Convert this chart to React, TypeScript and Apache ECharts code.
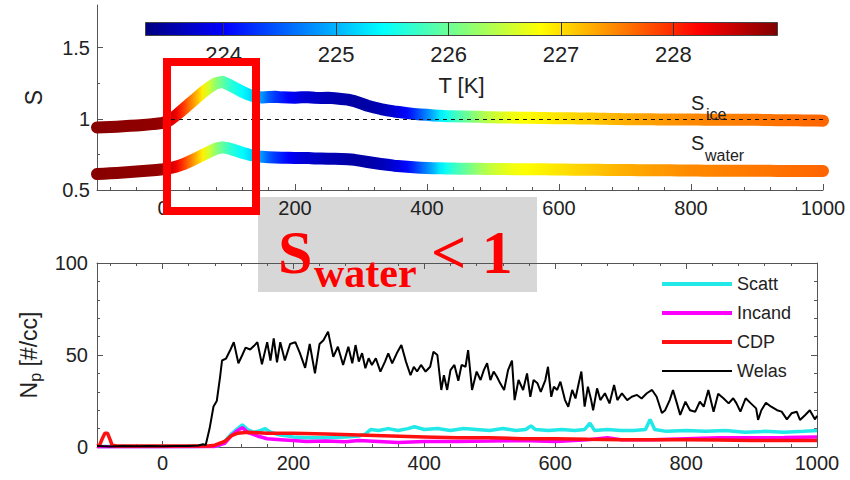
import React, { useEffect, useRef } from "react";
import * as echarts from "echarts";

const FONT = "'Liberation Sans', Arial, Helvetica, sans-serif";
const SERIF = "'Liberation Serif', 'Times New Roman', serif";

// time axis for saturation ratios (s)
const sTime = [
  -100, -90, -80, -70, -60, -50, -40, -30, -20, -10,
  0, 10, 20, 30, 40, 50, 60, 70, 80, 90,
  100, 110, 120, 130, 140, 150, 160, 170, 180, 190,
  200, 210, 220, 230, 240, 250, 260, 270, 280, 290,
  300, 310, 320, 330, 340, 350, 360, 370, 380, 390,
  400, 410, 420, 430, 440, 450, 460, 470, 480, 490,
  500, 510, 520, 530, 540, 550, 560, 570, 580, 590,
  600, 610, 620, 630, 640, 650, 660, 670, 680, 690,
  700, 710, 720, 730, 740, 750, 760, 770, 780, 790,
  800, 810, 820, 830, 840, 850, 860, 870, 880, 890,
  900, 910, 920, 930, 940, 950, 960, 970, 980, 990,
  1000,
];
const sIce = [
  0.940, 0.941, 0.943, 0.945, 0.948, 0.951, 0.954, 0.957, 0.961, 0.966,
  0.972, 0.990, 1.025, 1.065, 1.105, 1.145, 1.185, 1.220, 1.250, 1.260,
  1.240, 1.215, 1.190, 1.170, 1.155, 1.150, 1.154, 1.155, 1.151, 1.150,
  1.148, 1.151, 1.152, 1.148, 1.146, 1.148, 1.145, 1.140, 1.135, 1.125,
  1.108, 1.092, 1.080, 1.069, 1.060, 1.052, 1.046, 1.040, 1.035, 1.031,
  1.028, 1.024, 1.021, 1.019, 1.018, 1.017, 1.016, 1.015, 1.014, 1.012,
  1.011, 1.010, 1.009, 1.009, 1.008, 1.007, 1.007, 1.006, 1.006, 1.005,
  1.005, 1.004, 1.004, 1.003, 1.002, 1.002, 1.001, 1.000, 0.999, 0.999,
  0.998, 0.998, 0.997, 0.997, 0.997, 0.996, 0.996, 0.996, 0.995, 0.995,
  0.995, 0.995, 0.994, 0.994, 0.994, 0.994, 0.993, 0.993, 0.993, 0.993,
  0.993, 0.992, 0.992, 0.991, 0.991, 0.990, 0.990, 0.989, 0.989, 0.988,
  0.987,
];
const sWater = [
  0.612, 0.614, 0.617, 0.620, 0.623, 0.626, 0.630, 0.633, 0.637, 0.641,
  0.646, 0.653, 0.664, 0.680, 0.700, 0.722, 0.745, 0.768, 0.790, 0.800,
  0.792, 0.777, 0.762, 0.749, 0.739, 0.733, 0.730, 0.728, 0.727, 0.726,
  0.725, 0.725, 0.724, 0.722, 0.721, 0.720, 0.719, 0.718, 0.716, 0.712,
  0.705, 0.697, 0.690, 0.683, 0.677, 0.671, 0.667, 0.663, 0.660, 0.657,
  0.655, 0.653, 0.652, 0.651, 0.651, 0.650, 0.650, 0.649, 0.649, 0.648,
  0.648, 0.647, 0.647, 0.646, 0.646, 0.646, 0.645, 0.645, 0.645, 0.644,
  0.644, 0.644, 0.643, 0.643, 0.642, 0.642, 0.642, 0.641, 0.641, 0.640,
  0.640, 0.640, 0.639, 0.639, 0.639, 0.638, 0.638, 0.638, 0.637, 0.637,
  0.637, 0.637, 0.636, 0.636, 0.636, 0.636, 0.636, 0.635, 0.635, 0.635,
  0.635, 0.635, 0.635, 0.634, 0.634, 0.634, 0.634, 0.634, 0.634, 0.634,
  0.634,
];
const tempK = [
  228.88, 228.88, 228.87, 228.87, 228.86, 228.86, 228.85, 228.85, 228.84, 228.83,
  228.78, 228.55, 228.30, 227.95, 227.60, 227.25, 226.90, 226.55, 226.20, 225.95,
  225.70, 225.55, 225.40, 225.25, 225.05, 224.80, 224.50, 224.30, 224.15, 224.00,
  223.90, 223.80, 223.75, 223.70, 223.65, 223.60, 223.58, 223.55, 223.52, 223.50,
  223.50, 223.52, 223.55, 223.60, 223.68, 223.78, 223.90, 224.05, 224.25, 224.50,
  224.75, 225.00, 225.30, 225.50, 225.70, 225.85, 226.00, 226.15, 226.30, 226.42,
  226.52, 226.60, 226.68, 226.74, 226.78, 226.82, 226.85, 226.88, 226.91, 226.94,
  226.97, 227.00, 227.03, 227.06, 227.09, 227.12, 227.15, 227.18, 227.21, 227.24,
  227.27, 227.29, 227.31, 227.33, 227.35, 227.37, 227.39, 227.41, 227.43, 227.45,
  227.47, 227.48, 227.49, 227.50, 227.51, 227.52, 227.53, 227.54, 227.55, 227.56,
  227.57, 227.58, 227.59, 227.60, 227.61, 227.62, 227.63, 227.64, 227.65, 227.66,
  227.67,
];

// number concentrations [time, #/cc]
const scatt: [number, number][] = [
  [-100, 0.3], [-50, 0.3], [0, 0.3], [50, 0.3], [85, 0.5], [95, 3], [105, 7], [115, 10],
  [122, 12], [130, 9.5], [140, 8], [150, 9], [157, 10], [165, 8], [180, 6.5], [200, 5.5],
  [220, 5], [250, 5], [280, 5.5], [300, 6], [310, 7], [318, 9.5], [330, 9], [345, 10],
  [360, 9], [375, 10], [385, 11], [400, 9.5], [420, 10], [440, 9], [460, 10], [480, 9.5],
  [500, 9], [520, 10], [540, 9], [555, 9.5], [563, 11.5], [570, 9.5], [590, 9], [610, 9.5],
  [630, 9], [645, 9.5], [653, 13], [660, 9], [680, 9.5], [700, 9], [720, 9], [738, 9.5],
  [745, 15], [752, 9.5], [770, 8.5], [800, 9], [830, 8.5], [860, 9], [890, 8], [920, 8.5],
  [950, 8], [980, 8.5], [1000, 9],
];
const incand: [number, number][] = [
  [-100, 0.2], [0, 0.2], [80, 0.3], [95, 2], [105, 6], [115, 9], [122, 10.5], [130, 8],
  [145, 6], [160, 4.5], [180, 4], [200, 3.5], [220, 3], [250, 3.2], [280, 2.8], [300, 3.5],
  [330, 3], [360, 2.5], [400, 3], [450, 3], [500, 3.2], [550, 3.5], [600, 3], [650, 4],
  [680, 5], [700, 4], [750, 4], [800, 4.5], [850, 5], [900, 5], [950, 5.2], [1000, 5.5],
];
const cdp: [number, number][] = [
  [-100, 0.5], [-96, 1], [-92, 4.5], [-88, 7.5], [-84, 7.5], [-80, 4], [-77, 1], [-70, 0.5],
  [0, 0.5], [70, 0.5], [80, 1], [95, 3], [105, 6], [115, 7.5], [130, 8], [160, 7.5],
  [200, 7.5], [250, 7], [300, 6.5], [350, 6], [400, 5.5], [450, 5], [500, 5], [550, 4.5],
  [600, 4.5], [650, 4.2], [700, 4], [750, 4], [800, 4], [850, 3.8], [900, 3.6], [950, 3.5],
  [1000, 3.5],
];
const welas: [number, number][] = [
  [-100, 0.5], [-80, 0.3], [-60, 0.5], [-40, 0.4], [-20, 0.5], [0, 0.4], [20, 0.5], [40, 0.6],
  [55, 0.8], [62, 1.5], [66, 1], [72, 10], [78, 22], [83, 25], [88, 38], [91, 47],
  [97, 48], [104, 53], [109, 57], [116, 45.5], [122, 50], [127, 54], [134, 53], [140, 55],
  [145, 57], [152, 45], [160, 57], [165, 47], [170, 59], [175, 46], [180, 57], [187, 47],
  [195, 56], [203, 57], [210, 51], [218, 43], [225, 56], [233, 40], [240, 56], [246, 58],
  [253, 62.7], [261, 49], [268, 54.5], [276, 44.6], [284, 54.5], [290, 45.5], [295, 55.4], [300, 46.4],
  [305, 51], [310, 42.8], [315, 48.2], [320, 44.6], [326, 48.2], [333, 41], [340, 46.4], [345, 50.9],
  [351, 45.5], [358, 50.9], [365, 55.4], [372, 46.4], [379, 39], [384, 43.6], [389, 41], [395, 44.6],
  [402, 41], [409, 43.6], [414, 51.8], [420, 50], [426, 31], [430, 39], [435, 31], [440, 41.8],
  [446, 44.6], [452, 36], [457, 44.6], [463, 43.6], [467, 52.7], [473, 31], [480, 41], [486, 36.4],
  [491, 41.8], [496, 45.5], [501, 36.4], [506, 41], [511, 38.2], [516, 34.6], [522, 31], [528, 41.8],
  [534, 47], [538, 25.5], [544, 36.4], [551, 31], [557, 40], [562, 27.3], [567, 36.4], [573, 34.6],
  [578, 30], [585, 36.4], [589, 43.6], [594, 27.3], [598, 32.8], [603, 31], [608, 35.5], [615, 25.5],
  [620, 21.9], [626, 31], [631, 26.4], [636, 34.6], [640, 41], [645, 21.9], [650, 32.8], [655, 25.5],
  [658, 20], [664, 31.9], [669, 25.5], [676, 29.2], [683, 23.7], [690, 33.7], [695, 25.5], [702, 29.2],
  [710, 25.5], [717, 27.3], [725, 28.3], [732, 26.4], [740, 29.2], [748, 31], [755, 27.3], [763, 18.5],
  [768, 20], [775, 25.5], [780, 31], [786, 23.7], [791, 17.4], [799, 24.6], [806, 20], [814, 19.2],
  [821, 24.6], [827, 21.9], [834, 31], [842, 19.2], [849, 29], [857, 26.5], [865, 23.7], [872, 26.5],
  [877, 23.7], [883, 19.2], [891, 26.5], [899, 23.7], [907, 21], [910, 14.7], [915, 20], [922, 24],
  [930, 21.9], [939, 20], [946, 19.2], [954, 15], [961, 18.3], [969, 19.2], [974, 14.7], [982, 17.4],
  [989, 20], [997, 15], [1000, 17],
];

// axes / tick values
const xMajor = [0, 200, 400, 600, 800, 1000];
const xMinor = [-80, -40, 0, 40, 80, 120, 160, 200, 240, 280, 320, 360, 400, 440, 480, 520, 560, 600, 640, 680, 720, 760, 800, 840, 880, 920, 960, 1000];
const sMajor = [0.5, 1, 1.5];
const sMinor = [0.75, 1.25];
const tTicks = [224, 225, 226, 227, 228];
const colorbarMin = 223.3;
const colorbarMax = 228.93;
const jet = ["#000080", "#0000ff", "#0080ff", "#00ffff", "#80ff80", "#ffff00", "#ff8000", "#ff0000", "#800000"];

const AX = "#555";
const TXT = "#222";

function hexToRgb(h: string) {
  return [parseInt(h.slice(1, 3), 16), parseInt(h.slice(3, 5), 16), parseInt(h.slice(5, 7), 16)];
}
function jetColor(T: number) {
  const f = Math.min(1, Math.max(0, (T - colorbarMin) / (colorbarMax - colorbarMin))) * (jet.length - 1);
  const i = Math.min(jet.length - 2, Math.floor(f));
  const r = f - i;
  const a = hexToRgb(jet[i]);
  const b = hexToRgb(jet[i + 1]);
  const c = a.map((v, k) => Math.round(v + (b[k] - v) * r));
  return `rgb(${c[0]},${c[1]},${c[2]})`;
}

const fmt = (v: number) => String(v);

function xAxisPair(grid: number, margin: number, pos: "bottom" | "top", labels: boolean) {
  return [
    {
      type: "value", gridIndex: grid, min: -100, max: 1000, position: pos,
      axisLine: { show: true, onZero: false, lineStyle: { color: AX } },
      axisTick: { inside: true, length: 6, customValues: xMajor, lineStyle: { color: AX } },
      axisLabel: { show: labels, customValues: xMajor, formatter: fmt, fontSize: 20, color: TXT, margin, fontFamily: FONT },
      splitLine: { show: false },
    },
    {
      type: "value", gridIndex: grid, min: -100, max: 1000, position: pos,
      axisLine: { show: false, onZero: false },
      axisTick: { inside: true, length: 3, customValues: xMinor, lineStyle: { color: AX } },
      axisLabel: { show: false },
      splitLine: { show: false },
    },
  ];
}

function buildOption() {
  const iceData = sTime.map((t, i) => [t, sIce[i]]);
  const waterData = sTime.map((t, i) => [t, sWater[i]]);
  const t0 = sTime[0];
  const t1 = sTime[sTime.length - 1];
  const bandStops = sTime.map((t, i) => ({ offset: (t - t0) / (t1 - t0), color: jetColor(tempK[i]) }));
  const bandGrad = () => new echarts.graphic.LinearGradient(0, 0, 1, 0, bandStops);
  const barStops = jet.map((c, i) => ({ offset: i / (jet.length - 1), color: c }));

  return {
    animation: false,
    backgroundColor: "#ffffff",
    grid: [
      { left: 97, top: 5, width: 726, height: 185, show: false },
      { left: 97, top: 263, width: 720, height: 184, show: false },
      { left: 145, top: 22, width: 633, height: 14, show: false },
    ],
    xAxis: [
      ...xAxisPair(0, 8, "bottom", true),
      ...xAxisPair(1, 6, "bottom", true),
      ...xAxisPair(1, 6, "top", false),
      {
        type: "value", gridIndex: 2, min: colorbarMin, max: colorbarMax, position: "bottom",
        axisLine: { show: false, onZero: false },
        axisTick: { show: false },
        axisLabel: { customValues: tTicks, formatter: fmt, fontSize: 22, color: TXT, margin: 7, fontFamily: FONT },
        splitLine: { show: false },
        name: "T [K]", nameLocation: "middle", nameGap: 38,
        nameTextStyle: { fontSize: 22, color: TXT, fontFamily: FONT },
      },
    ],
    yAxis: [
      {
        type: "value", gridIndex: 0, min: 0.5, max: 1.8, position: "left",
        axisLine: { show: true, onZero: false, lineStyle: { color: AX } },
        axisTick: { inside: true, length: 6, customValues: sMajor, lineStyle: { color: AX } },
        axisLabel: { customValues: sMajor, formatter: fmt, fontSize: 20, color: TXT, margin: 7, fontFamily: FONT },
        splitLine: { show: false },
        name: "S", nameLocation: "middle", nameGap: 52, nameRotate: 90,
        nameTextStyle: { fontSize: 23, color: TXT, fontFamily: FONT },
      },
      {
        type: "value", gridIndex: 0, min: 0.5, max: 1.8, position: "left",
        axisLine: { show: false, onZero: false },
        axisTick: { inside: true, length: 3, customValues: sMinor, lineStyle: { color: AX } },
        axisLabel: { show: false },
        splitLine: { show: false },
      },
      {
        type: "value", gridIndex: 1, min: 0, max: 100, interval: 50, position: "left",
        axisLine: { show: true, onZero: false, lineStyle: { color: AX } },
        axisTick: { inside: true, length: 6, lineStyle: { color: AX } },
        minorTick: { show: true, splitNumber: 5, length: 3, lineStyle: { color: AX } },
        axisLabel: { formatter: fmt, fontSize: 20, color: TXT, margin: 9, fontFamily: FONT },
        splitLine: { show: false },
        name: "{n|N}{p|p}{n| [#/cc]}", nameLocation: "middle", nameGap: 55, nameRotate: 90,
        nameTextStyle: {
          color: TXT, fontFamily: FONT,
          rich: {
            n: { fontSize: 23, lineHeight: 23, color: TXT, fontFamily: FONT },
            p: { fontSize: 16, lineHeight: 16, padding: [14, 0, 0, 0], color: TXT, fontFamily: FONT },
          },
        },
      },
      {
        type: "value", gridIndex: 1, min: 0, max: 100, interval: 50, position: "right",
        axisLine: { show: true, onZero: false, lineStyle: { color: AX } },
        axisTick: { inside: true, length: 6, lineStyle: { color: AX } },
        minorTick: { show: true, splitNumber: 5, length: 3, lineStyle: { color: AX } },
        axisLabel: { show: false },
        splitLine: { show: false },
      },
      { type: "category", gridIndex: 2, data: ["T"], show: false },
    ],
    legend: {
      orient: "vertical", left: 660, top: 275, padding: 0,
      itemWidth: 70, itemHeight: 14, itemGap: 11,
      itemStyle: { opacity: 0 },
      data: [
        { name: "Scatt", lineStyle: { width: 4 } },
        { name: "Incand", lineStyle: { width: 4 } },
        { name: "CDP", lineStyle: { width: 4 } },
        { name: "Welas", lineStyle: { width: 2 } },
      ],
      textStyle: { fontSize: 18, color: TXT, fontFamily: FONT },
    },
    series: [
      {
        name: "Sice", type: "line", xAxisIndex: 0, yAxisIndex: 0, data: iceData,
        symbol: "none", clip: false,
        lineStyle: { width: 12, color: bandGrad(), cap: "round", join: "round" },
        markLine: {
          silent: true, symbol: "none", label: { show: false },
          lineStyle: { color: "#111", width: 1, type: [4, 4] },
          data: [[{ coord: [0, 1] }, { coord: [1000, 1] }]],
        },
      },
      {
        name: "Swater", type: "line", xAxisIndex: 0, yAxisIndex: 0, data: waterData,
        symbol: "none", clip: false,
        lineStyle: { width: 12, color: bandGrad(), cap: "round", join: "round" },
      },
      { name: "Scatt", type: "line", xAxisIndex: 2, yAxisIndex: 2, data: scatt, symbol: "none", lineStyle: { color: "#22e8e8", width: 3.5 }, itemStyle: { color: "#22e8e8" } },
      { name: "Incand", type: "line", xAxisIndex: 2, yAxisIndex: 2, data: incand, symbol: "none", lineStyle: { color: "#ff00ff", width: 3.5 }, itemStyle: { color: "#ff00ff" } },
      { name: "CDP", type: "line", xAxisIndex: 2, yAxisIndex: 2, data: cdp, symbol: "none", lineStyle: { color: "#ff1010", width: 3.5 }, itemStyle: { color: "#ff1010" } },
      { name: "Welas", type: "line", xAxisIndex: 2, yAxisIndex: 2, data: welas, symbol: "none", lineStyle: { color: "#000000", width: 2 }, itemStyle: { color: "#000000" } },
      {
        name: "cbBase", type: "bar", xAxisIndex: 6, yAxisIndex: 4, stack: "cb", barWidth: 14, silent: true,
        data: [colorbarMin], itemStyle: { color: "rgba(0,0,0,0)" },
      },
      {
        name: "cbBar", type: "bar", xAxisIndex: 6, yAxisIndex: 4, stack: "cb", barWidth: 14, silent: true,
        data: [colorbarMax - colorbarMin],
        itemStyle: { color: new echarts.graphic.LinearGradient(0, 0, 1, 0, barStops), borderColor: "#444", borderWidth: 1 },
        markLine: {
          silent: true, symbol: "none", label: { show: false },
          lineStyle: { color: "#333", width: 1, type: "solid" },
          data: tTicks.map((v) => ({ xAxis: v })),
        },
      },
    ],
    graphic: [
      { type: "rect", z: -10, zlevel: 0, shape: { x: 258, y: 197, width: 279, height: 95 }, style: { fill: "#d7d7d7" } },
      { type: "rect", z: 100, shape: { x: 167, y: 62, width: 89, height: 149 }, style: { fill: "none", stroke: "#ff0000", lineWidth: 8 } },
      { type: "text", z: 100, style: { text: "S", x: 278, y: 252, fill: "#ff0000", font: `bold 62px ${SERIF}`, align: "left", verticalAlign: "middle", textAlign: "left", textVerticalAlign: "middle" } },
      { type: "text", z: 100, style: { text: "water", x: 314, y: 273, fill: "#ff0000", font: `bold 42px ${SERIF}`, align: "left", verticalAlign: "middle", textAlign: "left", textVerticalAlign: "middle" } },
      { type: "text", z: 100, style: { text: "< 1", x: 431, y: 252, fill: "#ff0000", font: `bold 62px ${SERIF}`, align: "left", verticalAlign: "middle", textAlign: "left", textVerticalAlign: "middle" } },
      { type: "text", z: 50, style: { text: "S", x: 691, y: 103, fill: TXT, font: `20px ${FONT}`, align: "left", verticalAlign: "middle", textAlign: "left", textVerticalAlign: "middle" } },
      { type: "text", z: 50, style: { text: "ice", x: 706, y: 114, fill: TXT, font: `16px ${FONT}`, align: "left", verticalAlign: "middle", textAlign: "left", textVerticalAlign: "middle" } },
      { type: "text", z: 50, style: { text: "S", x: 691, y: 143, fill: TXT, font: `20px ${FONT}`, align: "left", verticalAlign: "middle", textAlign: "left", textVerticalAlign: "middle" } },
      { type: "text", z: 50, style: { text: "water", x: 705, y: 155, fill: TXT, font: `16px ${FONT}`, align: "left", verticalAlign: "middle", textAlign: "left", textVerticalAlign: "middle" } },
    ],
  };
}

export default function App() {
  const ref = useRef<HTMLDivElement>(null);
  useEffect(() => {
    if (!ref.current) return;
    const chart = echarts.init(ref.current, null, { renderer: "svg" });
    chart.setOption(buildOption() as any);
    return () => chart.dispose();
  }, []);
  return (
    <div
      ref={ref}
      style={{ position: "fixed", left: 0, top: 0, width: 850, height: 480, background: "#fff" }}
    />
  );
}
